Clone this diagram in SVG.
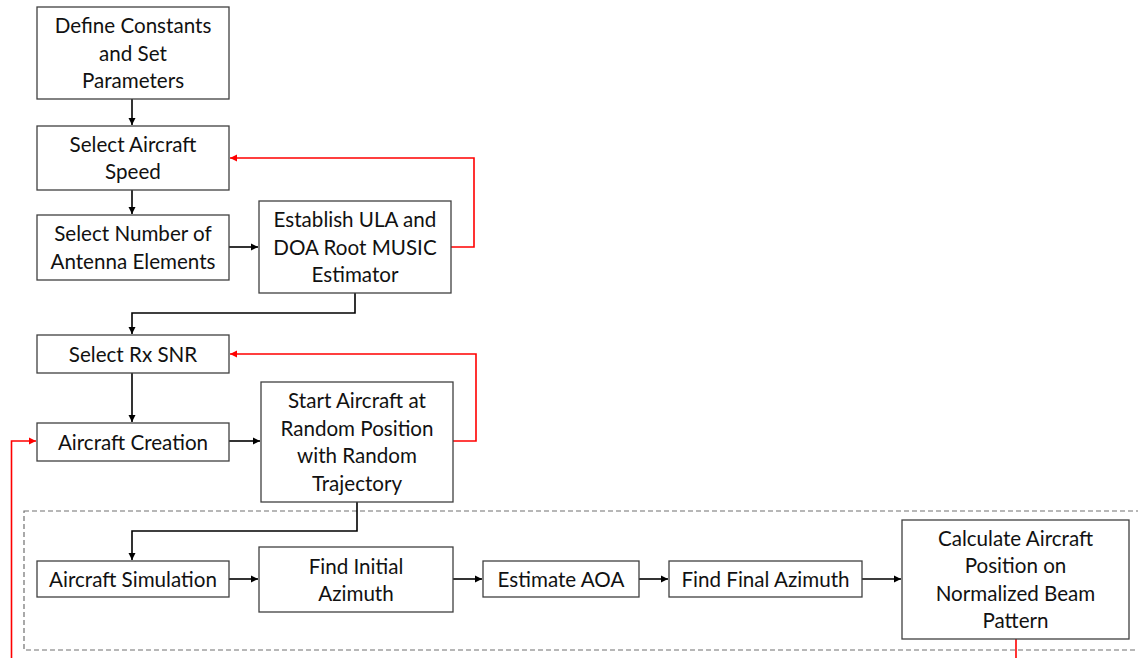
<svg xmlns="http://www.w3.org/2000/svg" width="1138" height="658" viewBox="0 0 1138 658">
<defs>
<style>
.box{fill:#fff;stroke:#404040;stroke-width:1.3}
.t{font-family:Lato,"Open Sans","Liberation Sans",sans-serif;font-size:20.6px;fill:#111;text-anchor:middle}
.c{fill:none;stroke:#000;stroke-width:1.6}
.r{fill:none;stroke:#ff0000;stroke-width:1.6}
.dash{fill:none;stroke:#707070;stroke-width:1.2;stroke-dasharray:5 3}
</style>
<marker id="ab" markerUnits="userSpaceOnUse" markerWidth="8" markerHeight="8" refX="7" refY="4" orient="auto"><path d="M0,0.5 L7,4 L0,7.5 z" fill="#000"/></marker>
<marker id="ar" markerUnits="userSpaceOnUse" markerWidth="8" markerHeight="8" refX="7" refY="4" orient="auto"><path d="M0,0.5 L7,4 L0,7.5 z" fill="#ff0000"/></marker>
</defs>
<rect width="1138" height="658" fill="#fff"/>
<rect class="dash" x="24" y="511" width="1130" height="139"/>
<g id="connectors">
<path class="c" d="M132,99 V125" marker-end="url(#ab)"/>
<path class="c" d="M132,190 V214" marker-end="url(#ab)"/>
<path class="c" d="M229,247 H258" marker-end="url(#ab)"/>
<path class="r" d="M451,247 H474 V158 H230" marker-end="url(#ar)"/>
<path class="c" d="M355,293 V313 H132 V334" marker-end="url(#ab)"/>
<path class="c" d="M132,373 V422" marker-end="url(#ab)"/>
<path class="c" d="M229,441 H260" marker-end="url(#ab)"/>
<path class="r" d="M453,441 H476 V354 H230" marker-end="url(#ar)"/>
<path class="c" d="M357,502 V531 H132 V560" marker-end="url(#ab)"/>
<path class="c" d="M229,579 H258" marker-end="url(#ab)"/>
<path class="c" d="M453,579 H482" marker-end="url(#ab)"/>
<path class="c" d="M639,579 H668" marker-end="url(#ab)"/>
<path class="c" d="M862,579 H901" marker-end="url(#ab)"/>
<path class="r" d="M1016,639 V658"/>
<path class="r" d="M11.5,658 V441 H36" marker-end="url(#ar)"/>
</g>
<g id="n1"><rect class="box" x="37" y="7" width="192" height="92"/>
<text class="t" x="133" y="33">Define Constants</text><text class="t" x="133" y="60.5">and Set</text><text class="t" x="133" y="88">Parameters</text></g>
<g id="n2"><rect class="box" x="37" y="126" width="192" height="64"/>
<text class="t" x="133" y="151.8">Select Aircraft</text><text class="t" x="133" y="179.3">Speed</text></g>
<g id="n3"><rect class="box" x="37" y="215" width="192" height="65"/>
<text class="t" x="133" y="241.3">Select Number of</text><text class="t" x="133" y="268.8">Antenna Elements</text></g>
<g id="n4"><rect class="box" x="259" y="201" width="192" height="92"/>
<text class="t" x="355" y="227">Establish ULA and</text><text class="t" x="355" y="254.5">DOA Root MUSIC</text><text class="t" x="355" y="282">Estimator</text></g>
<g id="n5"><rect class="box" x="37" y="335" width="192" height="38"/>
<text class="t" x="133" y="361.5">Select Rx SNR</text></g>
<g id="n6"><rect class="box" x="37" y="423" width="192" height="38"/>
<text class="t" x="133" y="449.5">Aircraft Creation</text></g>
<g id="n7"><rect class="box" x="261" y="382" width="192" height="120"/>
<text class="t" x="357" y="408.3">Start Aircraft at</text><text class="t" x="357" y="435.8">Random Position</text><text class="t" x="357" y="463.3">with Random</text><text class="t" x="357" y="490.8">Trajectory</text></g>
<g id="n8"><rect class="box" x="37" y="561" width="192" height="36"/>
<text class="t" x="133" y="586.5">Aircraft Simulation</text></g>
<g id="n9"><rect class="box" x="259" y="547" width="194" height="65"/>
<text class="t" x="356" y="573.5">Find Initial</text><text class="t" x="356" y="601">Azimuth</text></g>
<g id="n10"><rect class="box" x="483" y="561" width="156" height="36"/>
<text class="t" x="561" y="586.5">Estimate AOA</text></g>
<g id="n11"><rect class="box" x="669" y="561" width="193" height="36"/>
<text class="t" x="765.5" y="586.5">Find Final Azimuth</text></g>
<g id="n12"><rect class="box" x="902" y="520" width="227" height="119"/>
<text class="t" x="1015.5" y="545.5">Calculate Aircraft</text><text class="t" x="1015.5" y="573">Position on</text><text class="t" x="1015.5" y="600.5">Normalized Beam</text><text class="t" x="1015.5" y="628">Pattern</text></g>
</svg>
